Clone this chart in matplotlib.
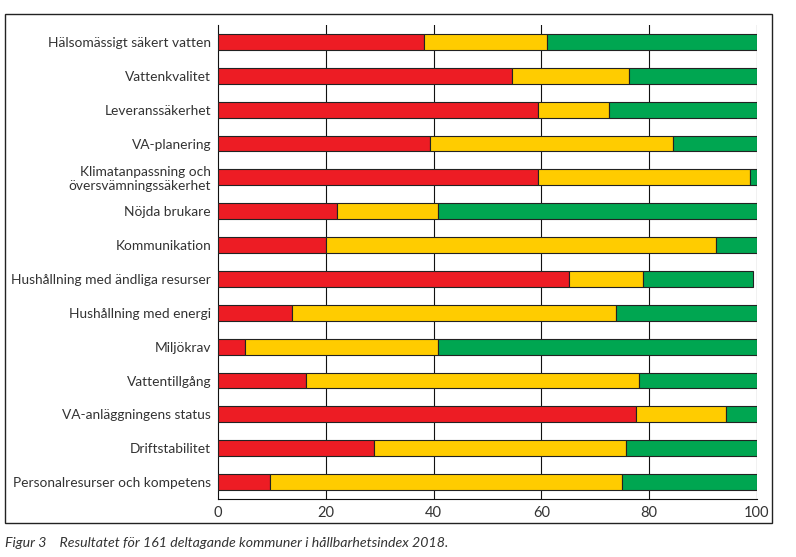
import matplotlib
matplotlib.use("Agg")
import numpy as np
from matplotlib import pyplot as plt
from matplotlib.patches import Rectangle

categories = ["Hälsomässigt säkert vatten", "Vattenkvalitet", "Leveranssäkerhet",
              "VA-planering", "Klimatanpassning och\növersvämningssäkerhet",
              "Nöjda brukare", "Kommunikation", "Hushållning med ändliga resurser",
              "Hushållning med energi", "Miljökrav", "Vattentillgång",
              "VA-anläggningens status", "Driftstabilitet",
              "Personalresurser och kompetens"]
red = [38.2, 54.5, 59.4, 39.4, 59.4, 22.0, 20.1, 65.1, 13.8, 5.0, 16.4, 77.6, 28.9, 9.6]
yellow = [22.9, 21.7, 13.1, 45.0, 39.3, 18.8, 72.3, 13.7, 60.0, 35.8, 61.7, 16.7, 46.8, 65.4]
green = [38.9, 23.8, 27.5, 15.6, 1.3, 59.2, 7.6, 20.5, 26.2, 59.2, 21.9, 5.7, 24.3, 25.0]
xticks = [0, 20, 40, 60, 80, 100]
caption = "Figur 3    Resultatet för 161 deltagande kommuner i hållbarhetsindex 2018."

plt.rcParams['font.family'] = ['Lato', 'DejaVu Sans']

fig = plt.figure(figsize=(7.96, 5.57), dpi=100)
ax = fig.add_axes([0.2739, 0.1041, 0.677, 0.851])

y = np.arange(len(categories))
red = np.array(red)
yellow = np.array(yellow)
green = np.array(green)
kw = dict(height=0.47, edgecolor="#222222", linewidth=0.8, zorder=3)
ax.barh(y, red, color="#ED1C24", **kw)
ax.barh(y, yellow, left=red, color="#FFCC00", **kw)
ax.barh(y, green, left=red + yellow, color="#00A651", **kw)

ax.set_xlim(0, 100)
ax.set_ylim(len(categories) - 0.5, -0.5)
ax.set_yticks(y)
ax.set_yticklabels(categories, fontsize=9.9, color="#333333", linespacing=1.15)
ax.set_xticks(xticks)
ax.set_xticklabels([str(t) for t in xticks], fontsize=10.5, color="#333333")
ax.tick_params(length=0, pad=5)
ax.tick_params(axis="y", pad=5)
for t in xticks[1:]:
    ax.axvline(t, color="#111111", linewidth=0.8, zorder=1)
for s in ["top", "right"]:
    ax.spines[s].set_visible(False)
for s in ["left", "bottom"]:
    ax.spines[s].set_linewidth(0.8)
    ax.spines[s].set_color("#111111")

frame = Rectangle((0.0063, 0.061), 0.9636, 0.914, transform=fig.transFigure,
                  fill=False, edgecolor="#222222", linewidth=1.0)
fig.patches.append(frame)

fig.text(0.006, 0.025, caption, fontsize=10.2, style="italic", color="#333333",
         va="center", ha="left")

fig.savefig("out.png", dpi=100)
